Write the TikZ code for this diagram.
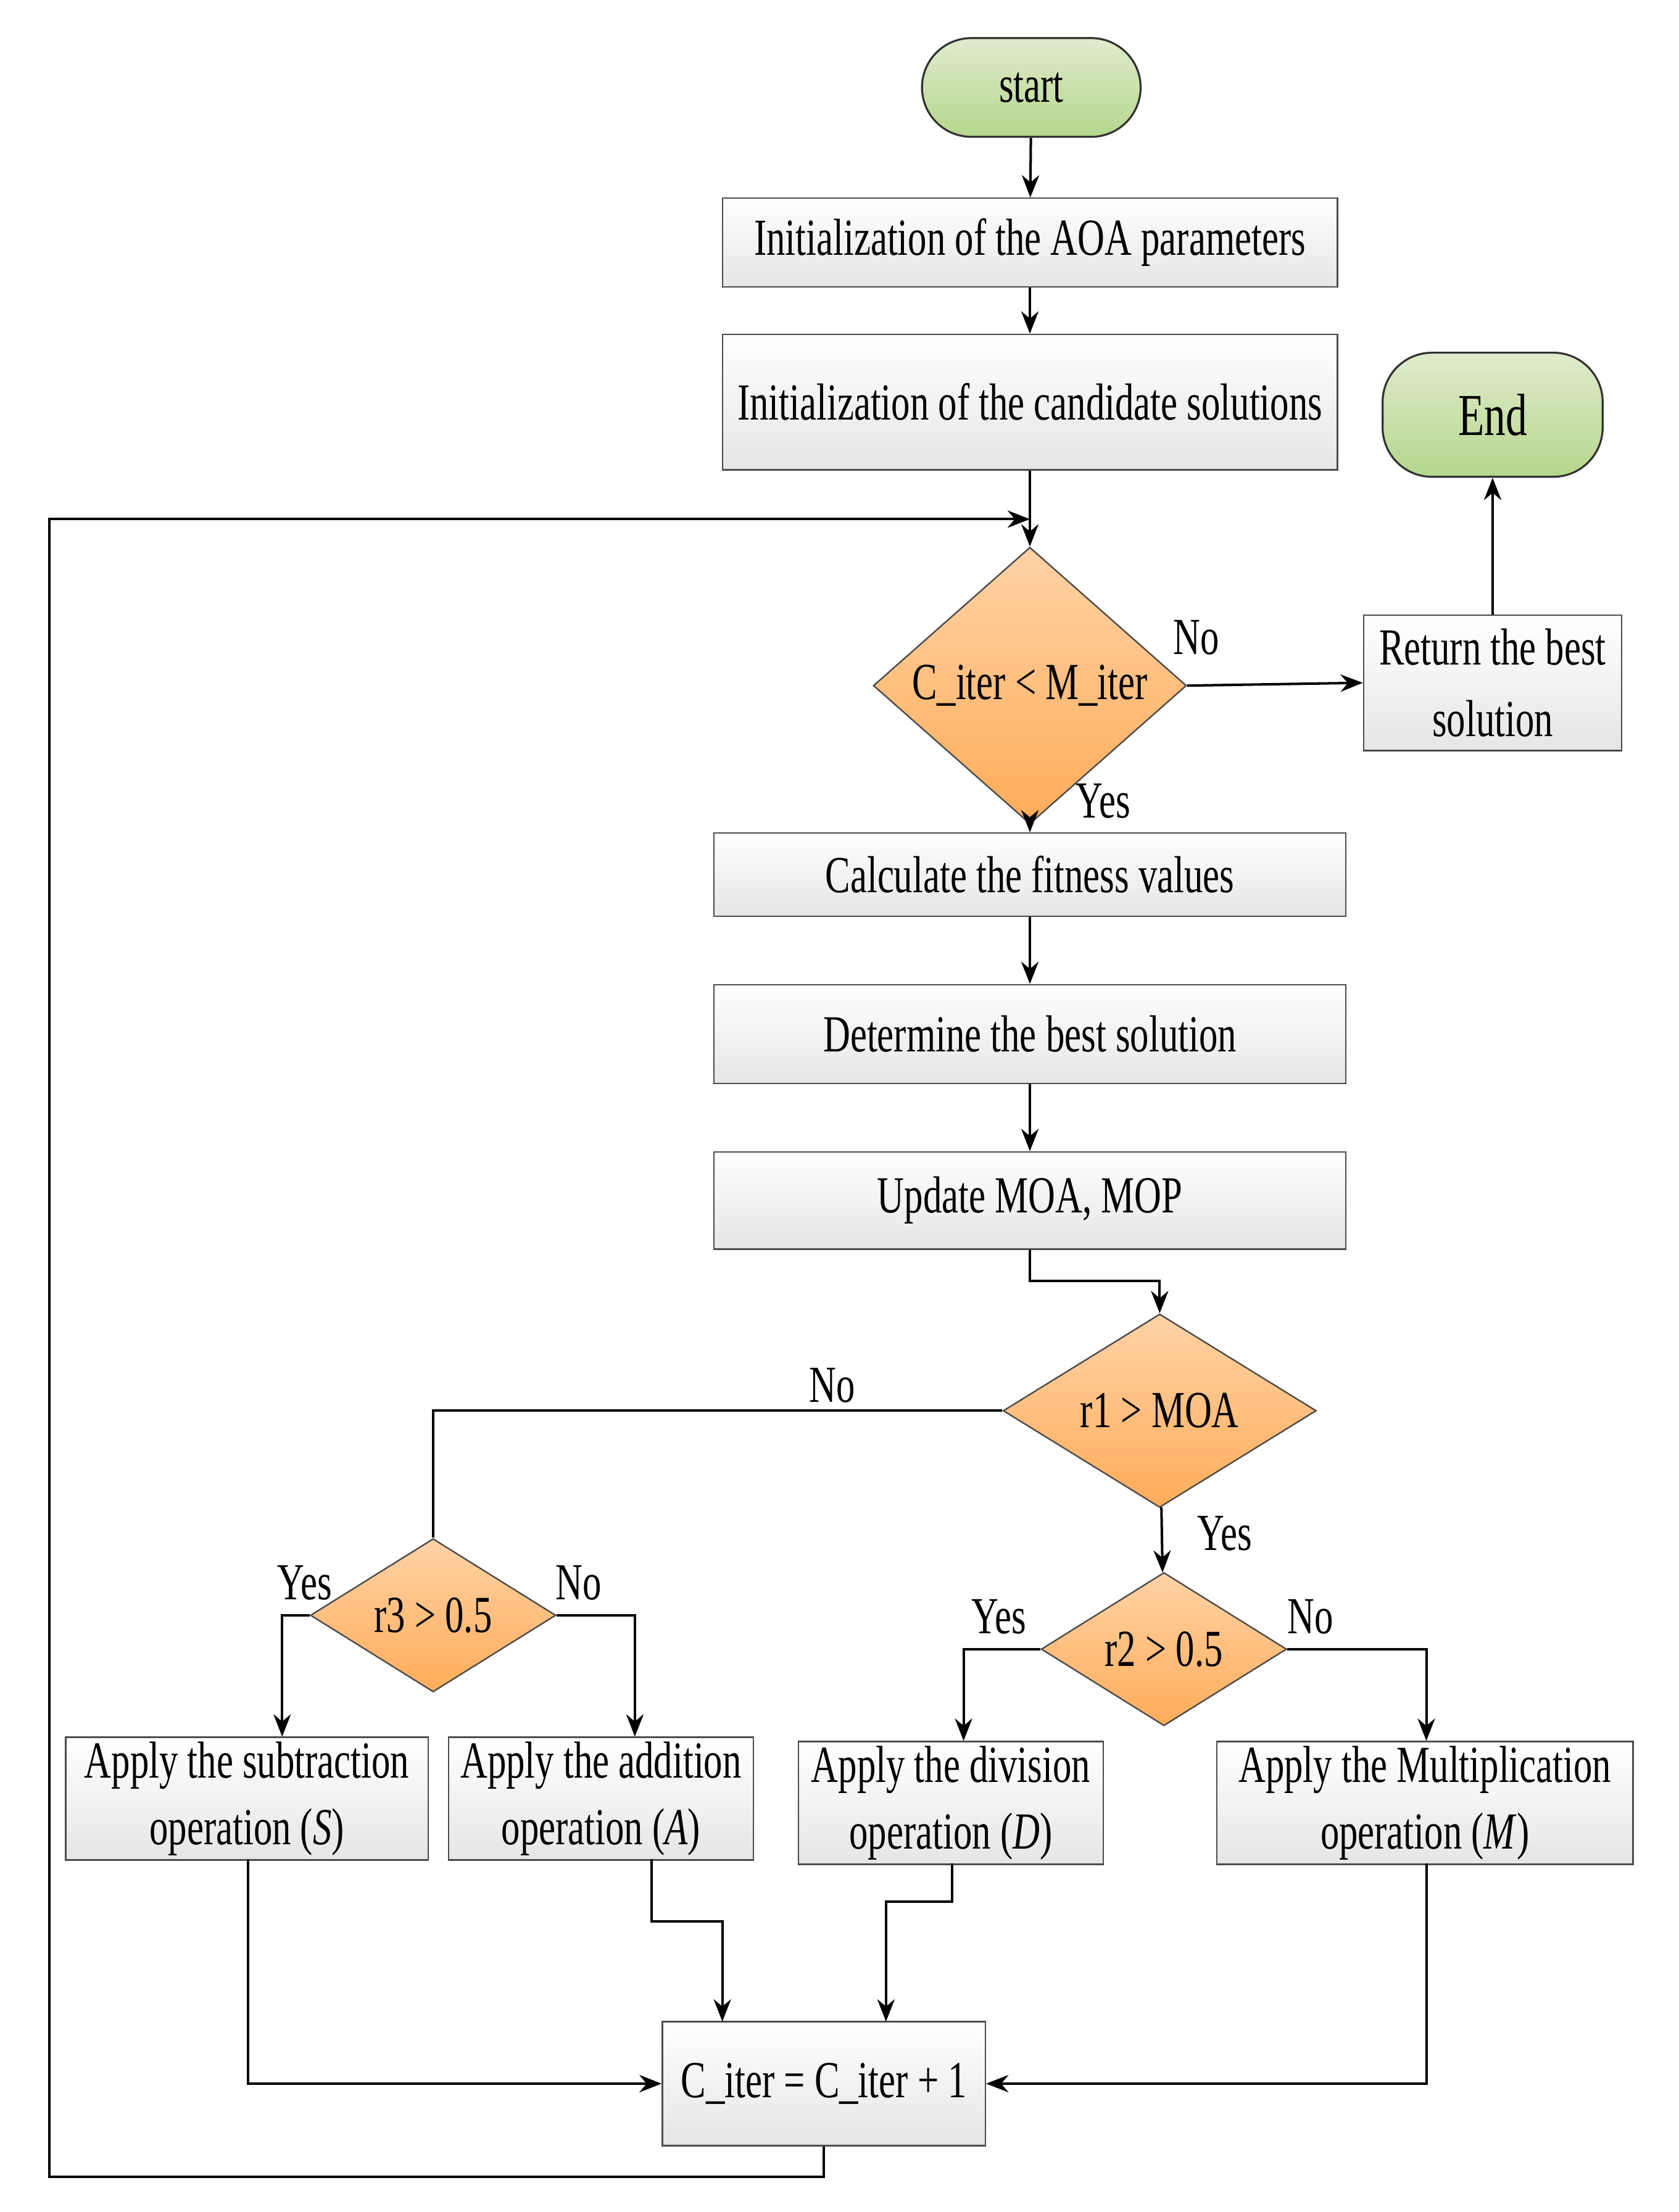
\documentclass[tikz,border=0pt]{standalone}
\usepackage{fontspec}
\setmainfont{Liberation Serif}[FakeStretch=0.72]
\usetikzlibrary{shapes.geometric,arrows.meta}
\begin{document}
\begin{tikzpicture}[x=0.02cm,y=-0.02cm,
  every node/.style={font=\fontsize{21}{25}\selectfont},
  box/.style={draw=black!70,line width=0.6pt,top color=white,bottom color=black!10,align=center,inner sep=0pt},
  term/.style={draw=black!80,line width=0.8pt,rounded corners=0.7cm,top color=green!20!olive!20!white,bottom color=green!30!olive!45!white,inner sep=0pt},
  dia/.style={diamond,draw=black!70,line width=0.6pt,top color=orange!35,bottom color=orange!65,inner sep=0pt},
  lab/.style={font=\fontsize{21}{25}\selectfont},
  arr/.style={-{Stealth[length=9pt,width=7pt]},line width=1pt},
  ln/.style={line width=1pt}]
\useasboundingbox (0,0) rectangle (1190,1568);
\node[term,minimum width=3.1cm,minimum height=1.4cm] (start) at (731,62) {start};
\node[box,minimum width=8.72cm,minimum height=1.26cm] (aoa) at (730,172) {Initialization of the AOA parameters};
\node[box,minimum width=8.72cm,minimum height=1.92cm] (cand) at (730,285) {Initialization of the candidate solutions};
\node[term,minimum width=3.12cm,minimum height=1.76cm] (end) at (1058,294) {\fontsize{24}{28}\selectfont End};
\coordinate (j) at (730,368);
\node[dia,minimum width=4.44cm,minimum height=2.48cm] (d1) at (730,486) {C\_iter < M\_iter};
\node[box,minimum width=3.66cm,minimum height=1.92cm] (ret) at (1058,484) {Return the best\\[4pt]solution};
\node[box,minimum width=8.96cm,minimum height=1.18cm] (fit) at (730,620) {Calculate the fitness values};
\node[box,minimum width=8.96cm,minimum height=1.4cm] (best) at (730,733) {Determine the best solution};
\node[box,minimum width=8.96cm,minimum height=1.38cm] (upd) at (730,851) {Update MOA, MOP};
\node[dia,minimum width=4.44cm,minimum height=2.48cm] (r1) at (822,1000) {r1 > MOA};
\node[dia,minimum width=3.48cm,minimum height=1.88cm] (r3) at (307,1145) {r3 > 0.5};
\node[dia,minimum width=3.48cm,minimum height=1.88cm] (r2) at (825,1169) {r2 > 0.5};
\node[box,minimum width=5.14cm,minimum height=1.74cm] (S) at (175,1275) {Apply the subtraction\\[2pt]operation (\textit{S})};
\node[box,minimum width=4.32cm,minimum height=1.74cm] (A) at (426,1275) {Apply the addition\\[2pt]operation (\textit{A})};
\node[box,minimum width=4.32cm,minimum height=1.74cm] (D) at (674,1278) {Apply the division\\[2pt]operation (\textit{D})};
\node[box,minimum width=5.9cm,minimum height=1.74cm] (M) at (1010,1278) {Apply the Multiplication\\[2pt]operation (\textit{M})};
\node[box,minimum width=4.58cm,minimum height=1.76cm] (c) at (584,1477) {C\_iter = C\_iter + 1};
% connectors
\draw[arr] (start) -- (aoa);
\draw[arr] (aoa) -- (cand);
\draw[arr] (cand) -- (d1);
\draw[arr] (d1.east) -- (ret.west);
\draw[arr] (ret) -- (end);
\draw[arr] (d1) -- (fit);
\draw[arr] (fit) -- (best);
\draw[arr] (best) -- (upd);
\draw[arr] (upd.south) -- (730,908) -| (r1.north);
\draw[ln] (r1.west) -| (r3.north);
\draw[arr] (r1) -- (r2);
\draw[arr] (r3.west) -| (200,1231);
\draw[arr] (r3.east) -| (450,1231);
\draw[arr] (r2.west) -| (683,1234);
\draw[arr] (r2.east) -| (1011,1234);
\draw[arr] (176,1318) |- (c.west);
\draw[arr] (462,1318) |- (512,1362) -- (512,1433);
\draw[arr] (675,1321) |- (628,1348) -- (628,1433);
\draw[arr] (1011,1321) |- (c.east);
\draw[arr] (c.south) |- (35,1543) |- (j);
% labels
\node[lab] at (848,452) {No};
\node[lab] at (782,568) {Yes};
\node[lab] at (590,982) {No};
\node[lab] at (868,1087) {Yes};
\node[lab] at (216,1122) {Yes};
\node[lab] at (410,1122) {No};
\node[lab] at (708,1146) {Yes};
\node[lab] at (929,1146) {No};
\end{tikzpicture}
\end{document}
